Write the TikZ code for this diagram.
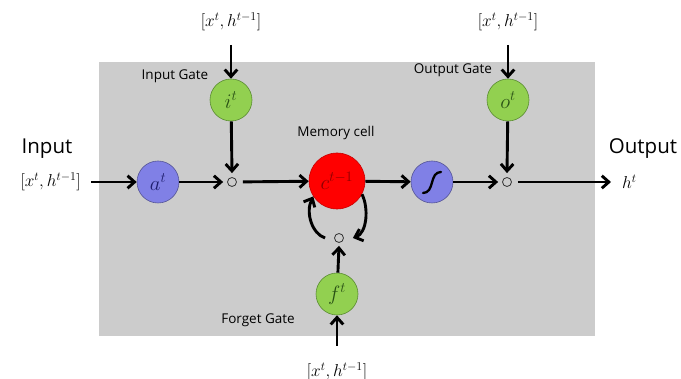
\documentclass[tikz,border=0pt]{standalone}
\usepackage{fontspec}
\setmainfont{Open Sans}
\usetikzlibrary{arrows.meta}
\definecolor{panel}{RGB}{204,204,204}
\definecolor{gatefill}{RGB}{146,208,80}
\definecolor{gateline}{RGB}{90,140,50}
\definecolor{gatetext}{RGB}{40,80,20}
\definecolor{blobfill}{RGB}{128,128,230}
\definecolor{blobline}{RGB}{85,85,150}
\definecolor{blobtext}{RGB}{30,30,110}
\definecolor{cellfill}{RGB}{255,0,0}
\definecolor{cellline}{RGB}{200,0,0}
\definecolor{celltext}{RGB}{140,0,0}
\tikzset{
  gate/.style={circle, fill=gatefill, draw=gateline, line width=0.6pt, minimum size=42pt, inner sep=0pt, text=gatetext, font=\fontsize{20}{24}\selectfont},
  blob/.style={circle, fill=blobfill, draw=blobline, line width=0.6pt, minimum size=42pt, inner sep=0pt, text=blobtext, font=\fontsize{20}{24}\selectfont},
  cell/.style={circle, fill=cellfill, draw=cellline, line width=0.6pt, minimum size=56pt, inner sep=0pt, text=celltext, font=\fontsize{20}{24}\selectfont},
  mult/.style={circle, draw=black!80, fill=panel, line width=0.8pt, minimum size=9pt, inner sep=0pt},
  vec/.style={inner sep=1pt, font=\fontsize{18}{21}\selectfont},
  caption/.style={inner sep=0pt, font=\fontsize{13.5}{16}\selectfont},
  big/.style={inner sep=0pt, font=\fontsize{20.5}{24}\selectfont},
  flow/.style={line width=2.9pt, -{Straight Barb[length=7pt,width=12.5pt,line width=2.9pt]}},
}
\begin{document}
\begin{tikzpicture}[x=1pt,y=1pt]
\useasboundingbox (0,0) rectangle (681,379);
% panel behind the cell
\fill[panel] (99,43) rectangle (595,317);

% nodes
\node[blob] (a) at (158,197) {$a^t$};
\node[gate] (i) at (231,279) {$i^t$};
\node[mult] (d1) at (232,197) {};
\node[cell] (c) at (337,198) {$c^{t-1}$};
\node[blob] (s) at (432,197) {};
\node[mult] (d2) at (507,197) {};
\node[gate] (o) at (508,279) {$o^t$};
\node[mult] (d3) at (339,141) {};
\node[gate] (f) at (337,85) {$f^t$};

% inputs and output
\node[vec] (xi) at (231,357) {$[x^t,h^{t-1}]$};
\node[vec] (xo) at (508,357) {$[x^t,h^{t-1}]$};
\node[vec] (xf) at (337,7) {$[x^t,h^{t-1}]$};
\node[vec, anchor=east] (xa) at (82,197) {$[x^t,h^{t-1}]$};
\node[vec, anchor=west] (h) at (621,197) {$h^t$};
\coordinate (xib) at (231,334);
\coordinate (xob) at (508,334);
\coordinate (xft) at (337,33);

% captions
\node[big] (lin) at (47,230) {Input};
\node[big] (lout) at (643,230) {Output};
\node[caption] (lig) at (175,303) {Input Gate};
\node[caption] (log) at (453,309) {Output Gate};
\node[caption] (lmc) at (336,246) {Memory cell};
\node[caption] (lfg) at (258,59) {Forget Gate};

% sigmoid glyph
\draw[line width=2.3pt, line cap=round] ([shift={(-9,-11)}]s.center) .. controls ([shift={(3,-11)}]s.center) and ([shift={(-3,10)}]s.center) .. ([shift={(9,10)}]s.center);

% connectors
\draw[flow, shorten <=9pt] (xa) -- (a);
\draw[flow] (a) -- ([xshift=-4pt]d1.west);
\draw[flow] (xib) -- (i);
\draw[flow] (i) -- ([yshift=4pt]d1.north);
\draw[flow, shorten <=6pt] (d1) -- (c);
\draw[flow] (c) -- (s);
\draw[flow] (s) -- ([xshift=-4pt]d2.west);
\draw[flow] (xob) -- (o);
\draw[flow] (o) -- ([yshift=4pt]d2.north);
\draw[flow, shorten <=6pt] (d2) -- ([xshift=-10pt]h.west);
\draw[flow] (xft) -- (f);
\draw[flow] (f) -- ([yshift=-3pt]d3.south);
% forget loop
\draw[flow] ([xshift=-9pt]d3.west) .. controls +(-13,4) and +(-8,-16) .. (c.213);
\draw[flow] (c.-28) .. controls +(7,-14) and +(14,5) .. ([xshift=9pt]d3.east);
\end{tikzpicture}
\end{document}
